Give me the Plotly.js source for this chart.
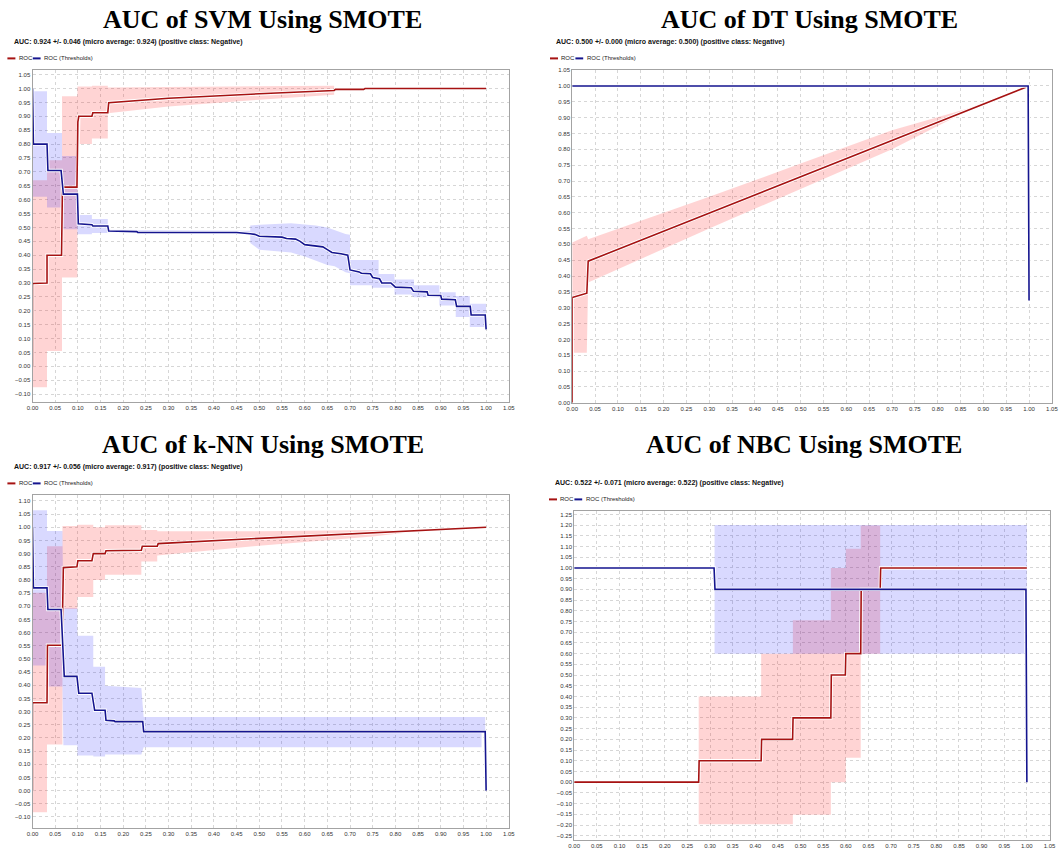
<!DOCTYPE html>
<html><head><meta charset="utf-8">
<script src="https://cdn.plot.ly/plotly-3.0.1.min.js"></script>
<style>html,body{margin:0;padding:0;background:#fff}#chart{width:1059px;height:851px}</style>
</head><body><div id="chart"></div>
<script>
// ---------- Titles / labels ----------
var titles = ["AUC of SVM Using SMOTE", "AUC of DT Using SMOTE", "AUC of k-NN Using SMOTE", "AUC of NBC Using SMOTE"];
var subtitles = [
  "AUC: 0.924 +/- 0.046 (micro average: 0.924) (positive class: Negative)",
  "AUC: 0.500 +/- 0.000 (micro average: 0.500) (positive class: Negative)",
  "AUC: 0.917 +/- 0.056 (micro average: 0.917) (positive class: Negative)",
  "AUC: 0.522 +/- 0.071 (micro average: 0.522) (positive class: Negative)"
];
var legendNames = ["ROC", "ROC (Thresholds)"];

// ---------- SVM ----------
var svmRocX = [0, 0, 0.032, 0.032, 0.064, 0.066, 0.098, 0.100, 0.102, 0.131, 0.133, 0.166, 0.168, 0.30, 0.50, 0.665, 0.668, 0.730, 0.733, 1.0];
var svmRocY = [0, 0.298, 0.30, 0.40, 0.40, 0.645, 0.645, 0.88, 0.90, 0.90, 0.913, 0.913, 0.949, 0.965, 0.981, 0.993, 0.997, 0.997, 1.0, 1.0];
var svmRocBandX  = [0, 0.032, 0.032, 0.065, 0.065, 0.099, 0.099, 0.131, 0.131, 0.166, 0.166, 0.30, 0.50, 0.665, 0.665, 1.0];
var svmRocBandLo = [-0.075, -0.075, 0.055, 0.055, 0.32, 0.32, 0.80, 0.80, 0.82, 0.82, 0.911, 0.935, 0.960, 0.978, 0.997, 1.0];
var svmRocBandHi = [0.67, 0.67, 0.742, 0.742, 0.972, 0.972, 1.007, 1.007, 1.01, 1.01, 1.004, 1.006, 1.008, 1.01, 0.997, 1.0];
var svmThrX = [0, 0.002, 0.032, 0.034, 0.063, 0.066, 0.068, 0.099, 0.101, 0.131, 0.133, 0.166, 0.168, 0.23, 0.232, 0.45, 0.47, 0.48, 0.49, 0.50, 0.55, 0.56, 0.58, 0.59, 0.60, 0.62, 0.64, 0.65, 0.66, 0.68, 0.695, 0.70, 0.72, 0.725, 0.745, 0.75, 0.765, 0.77, 0.79, 0.80, 0.835, 0.84, 0.87, 0.872, 0.90, 0.902, 0.932, 0.935, 0.965, 0.967, 0.998, 1.0];
var svmThrY = [1.0, 0.80, 0.80, 0.705, 0.705, 0.66, 0.62, 0.62, 0.513, 0.51, 0.505, 0.505, 0.487, 0.485, 0.482, 0.482, 0.48, 0.477, 0.475, 0.468, 0.465, 0.46, 0.458, 0.45, 0.438, 0.433, 0.43, 0.42, 0.41, 0.405, 0.40, 0.347, 0.34, 0.335, 0.333, 0.32, 0.315, 0.30, 0.30, 0.285, 0.283, 0.27, 0.268, 0.256, 0.255, 0.242, 0.24, 0.216, 0.216, 0.185, 0.185, 0.133];
var svmThrBandX  = [0, 0.032, 0.032, 0.065, 0.065, 0.099, 0.099, 0.131, 0.131, 0.166, 0.166, 0.48, 0.48, 0.50, 0.57, 0.60, 0.625, 0.65, 0.666, 0.69, 0.70, 0.70, 0.748, 0.748, 0.763, 0.763, 0.798, 0.798, 0.834, 0.841, 0.841, 0.897, 0.897, 0.933, 0.933, 0.964, 0.964, 1.0];
var svmThrBandLo = [0.61, 0.61, 0.572, 0.572, 0.493, 0.493, 0.475, 0.475, 0.48, 0.48, 0.482, 0.478, 0.444, 0.42, 0.41, 0.395, 0.38, 0.365, 0.36, 0.339, 0.335, 0.292, 0.292, 0.283, 0.283, 0.283, 0.283, 0.259, 0.259, 0.249, 0.249, 0.249, 0.219, 0.219, 0.178, 0.178, 0.142, 0.142];
var svmThrBandHi = [0.99, 0.99, 0.84, 0.84, 0.757, 0.757, 0.545, 0.545, 0.53, 0.53, 0.492, 0.488, 0.507, 0.51, 0.515, 0.512, 0.507, 0.50, 0.49, 0.476, 0.474, 0.383, 0.383, 0.383, 0.383, 0.332, 0.332, 0.313, 0.313, 0.313, 0.292, 0.292, 0.267, 0.267, 0.253, 0.253, 0.225, 0.225];

// ---------- DT ----------
var dtRocX = [0, 0, 0.032, 0.035, 1.0];
var dtRocY = [0, 0.332, 0.346, 0.447, 1.0];
var dtRocBandX  = [0, 0.032, 0.035, 0.30, 0.50, 0.70, 0.87, 1.0];
var dtRocBandLo = [0.158, 0.158, 0.38, 0.55, 0.675, 0.80, 0.925, 1.0];
var dtRocBandHi = [0.506, 0.527, 0.516, 0.65, 0.755, 0.86, 0.93, 1.0];
var dtThrX = [0, 0.998, 1.0];
var dtThrY = [1.0, 1.0, 0.323];

// ---------- k-NN ----------
var knnRocX = [0, 0, 0.032, 0.033, 0.065, 0.068, 0.098, 0.100, 0.131, 0.134, 0.16, 0.162, 0.24, 0.242, 0.275, 0.277, 0.50, 0.75, 1.0];
var knnRocY = [0, 0.334, 0.334, 0.552, 0.552, 0.847, 0.85, 0.873, 0.873, 0.90, 0.90, 0.911, 0.913, 0.928, 0.928, 0.938, 0.958, 0.979, 1.0];
var knnRocBandX  = [0, 0.032, 0.032, 0.066, 0.066, 0.099, 0.099, 0.134, 0.134, 0.16, 0.16, 0.24, 0.24, 0.275, 0.275, 0.50, 0.75, 0.85, 1.0];
var knnRocBandLo = [-0.082, -0.082, 0.175, 0.175, 0.69, 0.69, 0.735, 0.735, 0.80, 0.80, 0.82, 0.82, 0.87, 0.87, 0.893, 0.93, 0.965, 0.985, 1.0];
var knnRocBandHi = [0.751, 0.751, 0.928, 0.928, 1.005, 1.005, 1.01, 1.01, 1.0, 1.0, 1.008, 1.008, 0.99, 0.99, 0.985, 0.985, 0.99, 0.99, 1.0];
var knnThrX = [0, 0.002, 0.032, 0.034, 0.063, 0.066, 0.070, 0.098, 0.100, 0.102, 0.131, 0.134, 0.137, 0.160, 0.162, 0.18, 0.182, 0.243, 0.245, 0.998, 1.0];
var knnThrY = [1.0, 0.77, 0.77, 0.688, 0.688, 0.55, 0.434, 0.434, 0.40, 0.37, 0.37, 0.326, 0.305, 0.305, 0.267, 0.265, 0.262, 0.262, 0.224, 0.224, 0.0];
var knnThrBandX  = [0, 0.032, 0.032, 0.066, 0.068, 0.099, 0.099, 0.134, 0.134, 0.16, 0.16, 0.24, 0.245, 0.99, 0.99, 0.998];
var knnThrBandLo = [0.475, 0.475, 0.395, 0.395, 0.172, 0.172, 0.133, 0.133, 0.13, 0.13, 0.137, 0.137, 0.165, 0.165, 0.224, 0.224];
var knnThrBandHi = [1.065, 1.065, 0.986, 0.986, 0.693, 0.693, 0.588, 0.588, 0.47, 0.47, 0.398, 0.39, 0.28, 0.28, 0.28, 0.28];

// ---------- NBC ----------
var nbcRocX = [0, 0.275, 0.276, 0.413, 0.414, 0.4825, 0.4835, 0.567, 0.568, 0.599, 0.600, 0.633, 0.634, 0.676, 0.677, 1.0];
var nbcRocY = [0, 0, 0.10, 0.10, 0.20, 0.20, 0.30, 0.30, 0.50, 0.50, 0.60, 0.60, 0.90, 0.90, 1.0, 1.0];
var nbcRocBandX  = [0, 0.275, 0.275, 0.413, 0.413, 0.483, 0.483, 0.567, 0.567, 0.60, 0.60, 0.633, 0.633, 0.676, 0.676, 1.0];
var nbcRocBandLo = [0, 0, -0.197, -0.197, -0.197, -0.197, -0.152, -0.152, 0.0, 0.0, 0.114, 0.114, 0.60, 0.60, 1.0, 1.0];
var nbcRocBandHi = [0, 0, 0.40, 0.40, 0.60, 0.60, 0.756, 0.756, 1.0, 1.0, 1.09, 1.09, 1.198, 1.198, 1.0, 1.0];
var nbcThrX = [0, 0.309, 0.311, 0.998, 1.0];
var nbcThrY = [1.0, 1.0, 0.90, 0.90, 0.0];
var nbcThrBandX  = [0, 0.31, 0.31, 0.995, 0.995, 1.0];
var nbcThrBandLo = [1.0, 1.0, 0.60, 0.60, 0.90, 0.90];
var nbcThrBandHi = [1.0, 1.0, 1.20, 1.20, 1.20, 1.20];

// ---------- layout geometry (pixels) ----------
var W = 1059, H = 851;
var panels = [
  {l: 32.5, r: 508.8, t: 69.9, b: 401.9, yr: [-0.128, 1.067], title: [262, 19], sub: [11.5, 41.8], leg: [7.4, 58.4]},
  {l: 572.2, r: 1051.9, t: 70.1, b: 402.8, yr: [0, 1.05], title: [809, 19], sub: [553.6, 41.8], leg: [550, 58.4]},
  {l: 32.5, r: 508.8, t: 494.9, b: 827.5, yr: [-0.140, 1.123], title: [263, 444], sub: [11.5, 466.8], leg: [7.4, 483.4]},
  {l: 574.2, r: 1049.5, t: 511.2, b: 840.0, yr: [-0.270, 1.265], title: [804, 444], sub: [553, 482.5], leg: [549, 499.4]}
];
function px(x) { return x / W; }
function py(y) { return 1 - y / H; }

var RED = '#a61212', BLUE = '#15158f';
var PINK = 'rgba(255,0,0,0.17)', LAV = 'rgba(0,0,255,0.15)';

var data = [
  [svmRocX, svmRocY, svmRocBandX, svmRocBandLo, svmRocBandHi, svmThrX, svmThrY, svmThrBandX, svmThrBandLo, svmThrBandHi],
  [dtRocX, dtRocY, dtRocBandX, dtRocBandLo, dtRocBandHi, dtThrX, dtThrY, null, null, null],
  [knnRocX, knnRocY, knnRocBandX, knnRocBandLo, knnRocBandHi, knnThrX, knnThrY, knnThrBandX, knnThrBandLo, knnThrBandHi],
  [nbcRocX, nbcRocY, nbcRocBandX, nbcRocBandLo, nbcRocBandHi, nbcThrX, nbcThrY, nbcThrBandX, nbcThrBandLo, nbcThrBandHi]
];

function band(x, lo, hi, color, xa, ya) {
  return {x: x.concat(x.slice().reverse()), y: hi.concat(lo.slice().reverse()),
    type: 'scatter', mode: 'lines', fill: 'toself', fillcolor: color,
    line: {width: 0, color: 'rgba(0,0,0,0)'}, hoverinfo: 'skip', showlegend: false, xaxis: xa, yaxis: ya};
}
function line(x, y, color, w, xa, ya) {
  return {x: x, y: y, type: 'scatter', mode: 'lines', line: {color: color, width: w},
    hoverinfo: 'skip', showlegend: false, xaxis: xa, yaxis: ya};
}

var traces = [];
var layout = {
  width: W, height: H, margin: {l: 0, r: 0, t: 0, b: 0},
  paper_bgcolor: '#fff', plot_bgcolor: '#fff', showlegend: false,
  annotations: [], shapes: []
};
var tickFont = {family: 'Liberation Sans, Arial, sans-serif', size: 6, color: '#333'};

data.forEach(function (d, i) {
  var n = i === 0 ? '' : String(i + 1);
  var xa = 'x' + n, ya = 'y' + n;
  var p = panels[i];
  traces.push(band(d[2], d[3], d[4], PINK, xa, ya));
  if (d[7]) traces.push(band(d[7], d[8], d[9], LAV, xa, ya));
  traces.push(line(d[0], d[1], '#ffffff', 3.4, xa, ya));
  traces.push(line(d[0], d[1], RED, 1.6, xa, ya));
  traces.push(line(d[5], d[6], '#ffffff', 3.4, xa, ya));
  traces.push(line(d[5], d[6], BLUE, 1.6, xa, ya));

  var common = {tick0: 0, dtick: 0.05, tickformat: '.2f', showgrid: true, gridcolor: '#d6d6d6',
    griddash: 'dot', gridwidth: 1, zeroline: false, showline: true, mirror: true,
    linecolor: '#a3a3a3', linewidth: 1, ticks: '', tickfont: tickFont, fixedrange: true};
  layout['xaxis' + n] = Object.assign({}, common, {domain: [px(p.l), px(p.r)], range: [0, 1.05], anchor: ya});
  layout['yaxis' + n] = Object.assign({}, common, {domain: [py(p.b), py(p.t)], range: p.yr, anchor: xa});

  layout.annotations.push({text: '<b>' + titles[i] + '</b>', xref: 'paper', yref: 'paper',
    x: px(p.title[0]), y: py(p.title[1]), xanchor: 'center', yanchor: 'middle', showarrow: false,
    font: {family: 'Liberation Serif, Times New Roman, serif', size: 26, color: '#000'}});
  layout.annotations.push({text: '<b>' + subtitles[i] + '</b>', xref: 'paper', yref: 'paper',
    x: px(p.sub[0]), y: py(p.sub[1]), xanchor: 'left', yanchor: 'middle', showarrow: false,
    font: {family: 'Liberation Sans, Arial, sans-serif', size: 7, color: '#111'}});
  // legend
  var lx = p.leg[0], ly = p.leg[1];
  layout.shapes.push({type: 'line', xref: 'paper', yref: 'paper', x0: px(lx), x1: px(lx + 8), y0: py(ly), y1: py(ly), line: {color: RED, width: 2}});
  layout.annotations.push({text: legendNames[0], xref: 'paper', yref: 'paper', x: px(lx + 9.4), y: py(ly),
    xanchor: 'left', yanchor: 'middle', showarrow: false, font: {family: 'Liberation Sans, Arial, sans-serif', size: 6, color: '#222'}});
  layout.shapes.push({type: 'line', xref: 'paper', yref: 'paper', x0: px(lx + 25.4), x1: px(lx + 33.2), y0: py(ly), y1: py(ly), line: {color: BLUE, width: 2}});
  layout.annotations.push({text: legendNames[1], xref: 'paper', yref: 'paper', x: px(lx + 34.8), y: py(ly),
    xanchor: 'left', yanchor: 'middle', showarrow: false, font: {family: 'Liberation Sans, Arial, sans-serif', size: 6, color: '#222'}});
});

Plotly.newPlot('chart', traces, layout, {displayModeBar: false, staticPlot: true});
</script></body></html>
